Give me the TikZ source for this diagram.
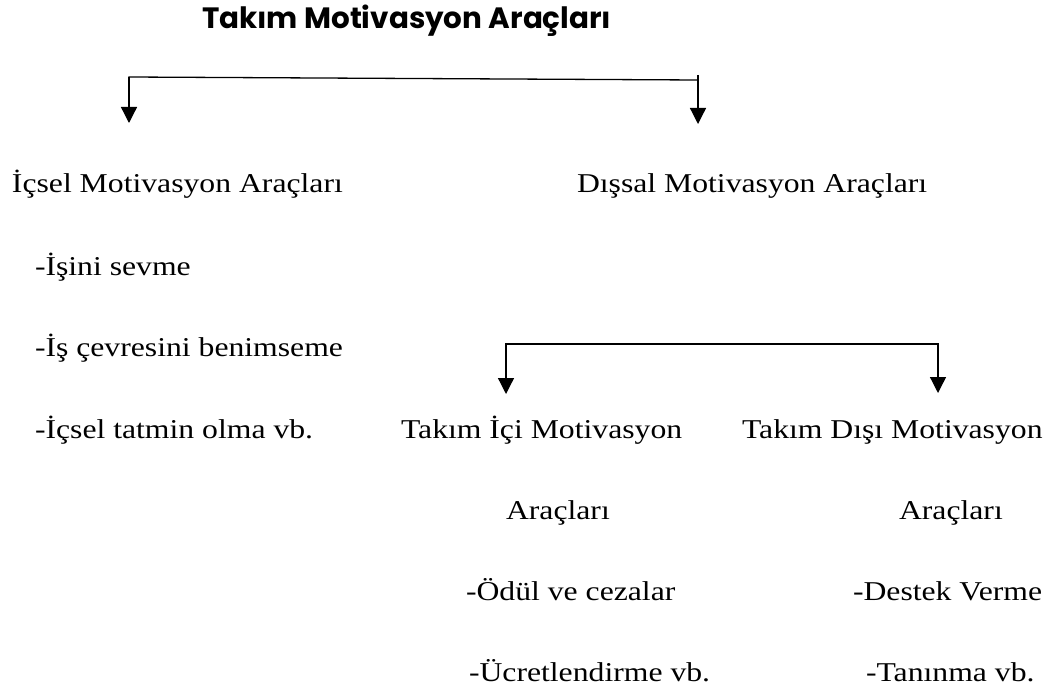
\documentclass[tikz,border=0pt]{standalone}
\usepackage{fontspec}
\setmainfont{Liberation Serif}[FakeStretch=1.165]
\newfontfamily\titlefont{Poppins}
\usetikzlibrary{arrows.meta}
\tikzset{
  txt/.style={anchor=base west, inner sep=0pt, outer sep=0pt, font=\fontsize{27.2}{30}\selectfont},
  ttl/.style={anchor=base west, inner sep=0pt, outer sep=0pt, font=\titlefont\bfseries\fontsize{29.4}{32}\selectfont},
  line/.style={line width=1.3pt, line cap=rect},
  conn/.style={line width=1.3pt, -{Triangle[width=16pt,length=16pt]}}
}
\begin{document}
\begin{tikzpicture}[x=1pt,y=-1pt]
\useasboundingbox (0,0) rectangle (1059,695);
% title
\node[ttl] (title) at (202,29) {Takım Motivasyon Araçları};
% level 1
\node[txt] (ic) at (12,193) {İçsel Motivasyon Araçları};
\node[txt] (dis) at (577,193) {Dışsal Motivasyon Araçları};
\node[txt] (ic1) at (35,275) {-İşini sevme};
\node[txt] (ic2) at (35,356) {-İş çevresini benimseme};
\node[txt] (ic3) at (35,438) {-İçsel tatmin olma vb.};
% level 2
\node[txt] (ti) at (401,438) {Takım İçi Motivasyon};
\node[txt] (td) at (742,438) {Takım Dışı Motivasyon};
\node[txt] (ti2) at (506,519) {Araçları};
\node[txt] (td2) at (899,519) {Araçları};
\node[txt] (ti3) at (466,600) {-Ödül ve cezalar};
\node[txt] (td3) at (853,600) {-Destek Verme};
\node[txt] (ti4) at (469,681) {-Ücretlendirme vb.};
\node[txt] (td4) at (866,681) {-Tanınma vb.};
% connector 1
\coordinate (a1) at (129,77);
\coordinate (a2) at (698,80);
\coordinate (a2top) at (698,75);
\coordinate (icin) at (129,123);
\coordinate (disin) at (698,124);
\draw[line] (a1) -- (a2);
\draw[conn] (a1) -- (icin);
\draw[conn] (a2top) -- (disin);
% connector 2
\coordinate (b1) at (506,344);
\coordinate (b2) at (938,344);
\coordinate (tiin) at (506,394);
\coordinate (tdin) at (938,393);
\draw[line] (b1) -- (b2);
\draw[conn] (b1) -- (tiin);
\draw[conn] (b2) -- (tdin);
\end{tikzpicture}
\end{document}
